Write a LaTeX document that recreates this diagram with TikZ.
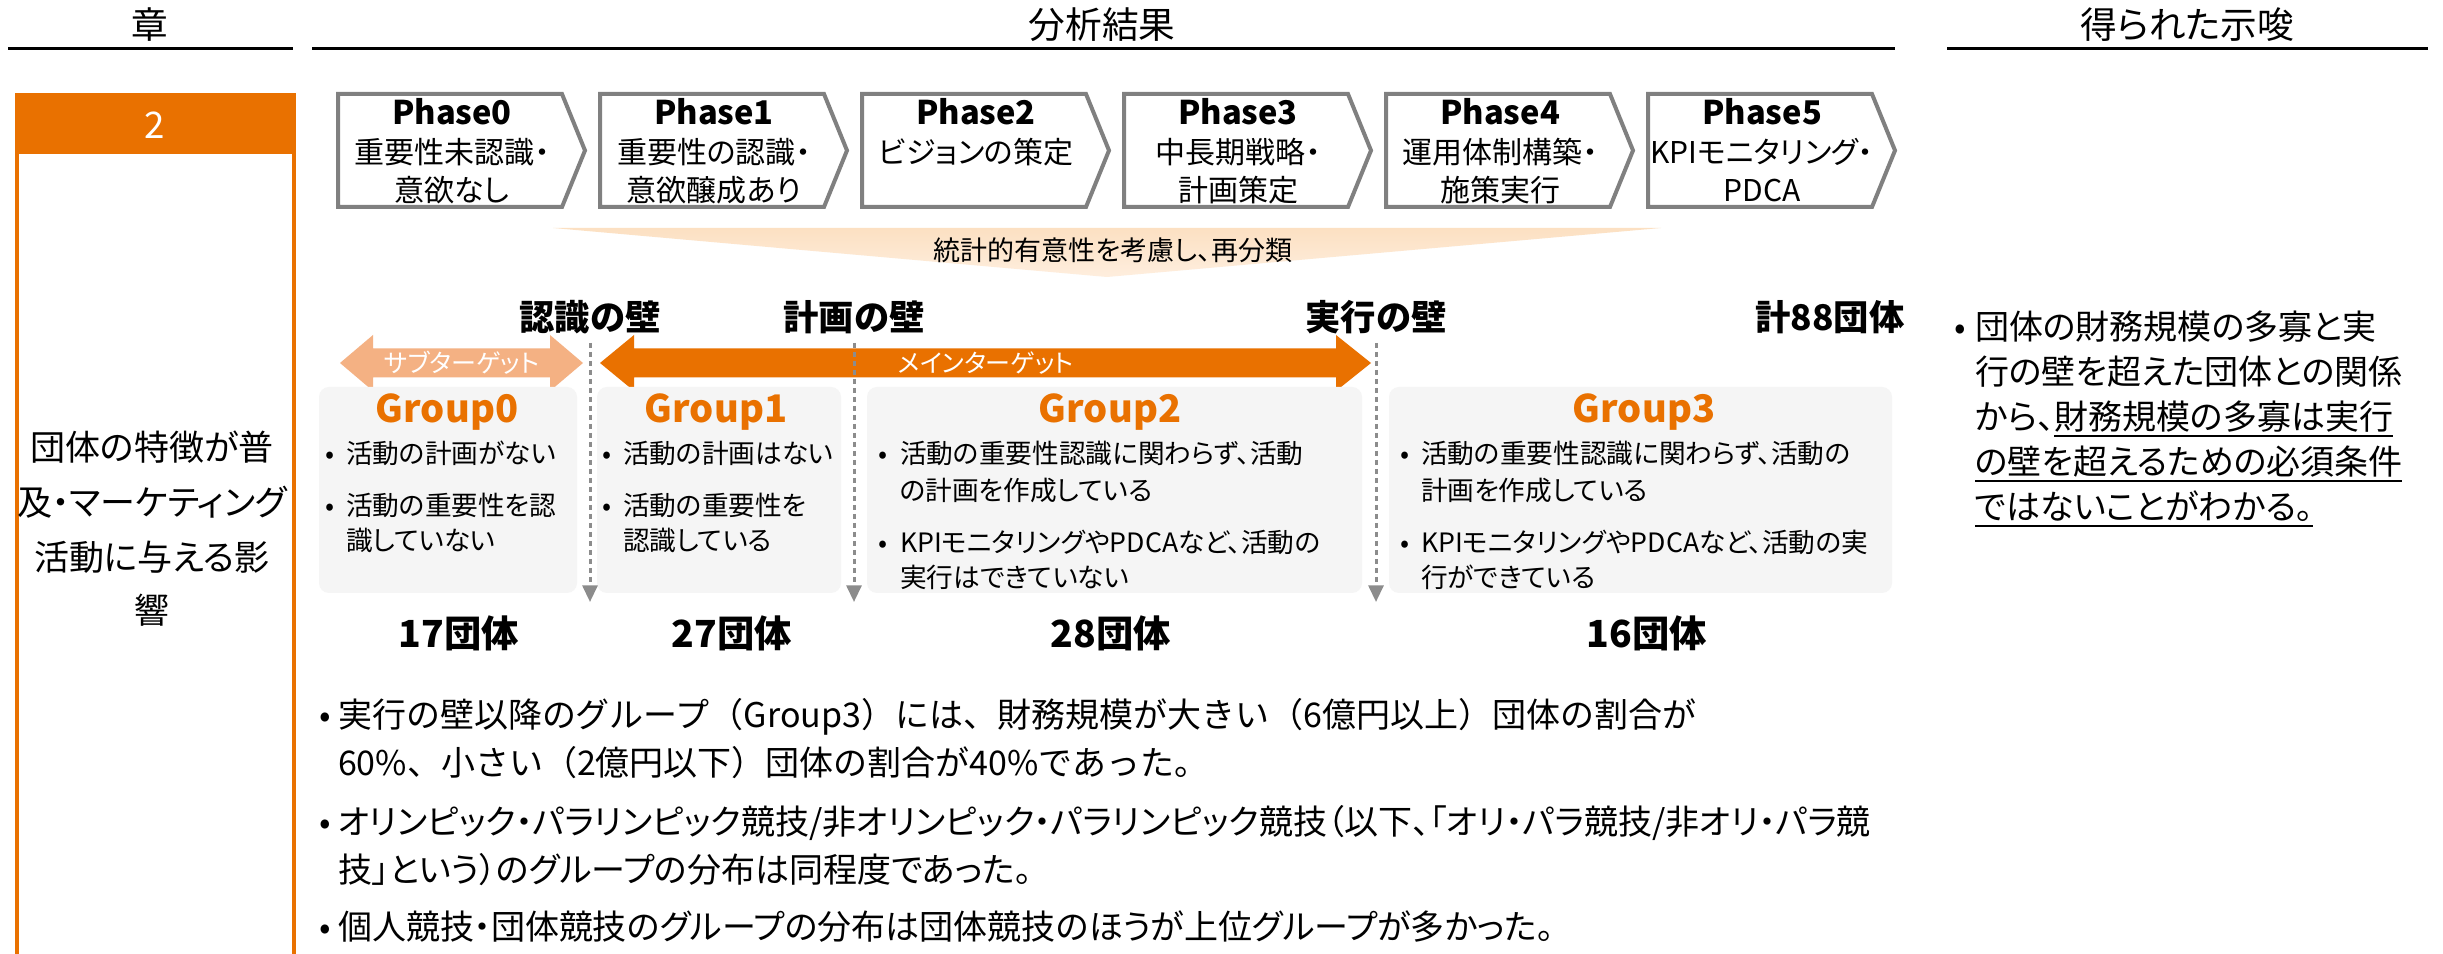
\documentclass[tikz,border=0pt]{standalone}
\usepackage{fontspec}
\setmainfont{Noto Sans CJK JP}[RawFeature=+palt]
\newfontfamily\nopalt{Noto Sans CJK JP}
\usetikzlibrary{arrows.meta}
\definecolor{mainor}{RGB}{233,113,0}
\definecolor{subor}{RGB}{244,177,131}
\definecolor{fantop}{RGB}{252,224,194}
\definecolor{fanbot}{RGB}{254,238,222}
\definecolor{phgray}{RGB}{128,128,128}
\definecolor{dashgray}{RGB}{140,140,140}
\definecolor{boxgray}{RGB}{245,245,245}
\newcommand\myul[1]{\setbox0\hbox{#1}\rlap{\rule[-2.1pt]{\wd0}{0.6pt}}\box0}
\tikzset{
  t/.style={inner sep=0pt, outer sep=0pt},
  hdr/.style={t, font=\fontsize{11pt}{13pt}\selectfont, text height=9.68pt, text depth=1.32pt},
  chapno/.style={t, text=white, font=\fontsize{11pt}{13pt}\selectfont, text height=8pt, text depth=0pt},
  lefttxt/.style={t, font=\fontsize{10.5pt}{12pt}\selectfont, text height=9.24pt, text depth=1.26pt},
  phtitle/.style={t, font=\bfseries\fontsize{9.8pt}{11pt}\selectfont, text height=7.15pt, text depth=0pt},
  phsub/.style={t, font=\fontsize{9pt}{10pt}\selectfont, text height=7.92pt, text depth=1.08pt},
  fantxt/.style={t, font=\fontsize{8.1pt}{9pt}\selectfont, text height=7.13pt, text depth=0.97pt},
  wall/.style={t, font=\bfseries\fontsize{10.6pt}{12pt}\selectfont, text height=9.33pt, text depth=1.27pt},
  arrtxt/.style={t, text=white, font=\fontsize{7.5pt}{8pt}\selectfont, text height=6.6pt, text depth=0.9pt},
  gtitle/.style={t, text=mainor, font=\bfseries\fontsize{11.4pt}{12pt}\selectfont, text height=8.3pt, text depth=2.3pt},
  gtxt/.style={t, anchor=west, font=\fontsize{8pt}{9pt}\selectfont, text height=7.04pt, text depth=0.96pt},
  gbul/.style={t, font=\fontsize{8pt}{9pt}\selectfont, text height=7.04pt, text depth=0.96pt},
  cnt/.style={t, font=\bfseries\fontsize{11.2pt}{12pt}\selectfont, text height=9.86pt, text depth=1.34pt},
  btxt/.style={t, anchor=west, font=\fontsize{10.2pt}{12pt}\selectfont, text height=8.98pt, text depth=1.22pt},
  bbul/.style={t, font=\fontsize{10.2pt}{12pt}\selectfont, text height=8.98pt, text depth=1.22pt},
  hline/.style={line width=0.9pt, black},
  phasebox/.style={draw=phgray, line width=1.2pt, fill=white},
  wallline/.style={dashgray, line width=0.9pt, dash pattern=on 1.5pt off 1.2pt, -{Triangle[width=4.5pt,length=5pt]}},
  gbox/.style={fill=boxgray, rounded corners=3pt},
}
\begin{document}
\begin{tikzpicture}[x=0.3pt, y=-0.3pt]
\useasboundingbox (0,0) rectangle (2443,954);
\fill[white] (0,0) rectangle (2443,954);

% headers
\node[hdr] (h1) at (150,25) {章};
\node[hdr] (h2) at (1102,25) {分析結果};
\node[hdr] (h3) at (2187,25) {得られた示唆};
\draw[hline] (8,49) -- (293,49);
\draw[hline] (312,49) -- (1895,49);
\draw[hline] (1947,49) -- (2428,49);

% left column
\fill[mainor] (15,93) rectangle (296,154);
\draw[mainor, line width=1.2pt] (17,154) -- (17,970);
\draw[mainor, line width=1.2pt] (294,154) -- (294,970);
\node[chapno] (chap) at (155,125) {2};
\node[lefttxt] (lt1) at (152,447) {団体の特徴が普};
\node[lefttxt] (lt2) at (152,502) {及・マーケティング};
\node[lefttxt] (lt3) at (152,557) {活動に与える影};
\node[lefttxt] (lt4) at (152,610) {響};

% phases
\foreach \i/\la/\lb in {0/重要性未認識・/意欲なし, 1/重要性の認識・/意欲醸成あり, 2/ビジョンの策定/{}, 3/中長期戦略・/計画策定, 4/運用体制構築・/施策実行, 5/KPIモニタリング・/PDCA} {
  \pgfmathsetmacro\L{338+262*\i}
  \draw[phasebox] (\L,94) -- (\L+224,94) -- (\L+247,150.5) -- (\L+224,207) -- (\L,207) -- cycle;
  \node[phtitle] (ph\i) at (\L+114,113) {Phase\i};
  \node[phsub] (ph\i-a) at (\L+114,152) {\la};
  \node[phsub] (ph\i-b) at (\L+114,190) {\lb};
}

% fan
\shade[top color=fantop, bottom color=fanbot] (553,228) -- (1661,228) -- (1107,277) -- cycle;
\node[fantxt] (fan) at (1113,250) {統計的有意性を考慮し、再分類};

% walls
\node[wall] (w1) at (590,317) {認識の壁};
\node[wall] (w2) at (854,317) {計画の壁};
\node[wall] (w3) at (1376,317) {実行の壁};
\node[wall] (tot) at (1830,317) {計88団体};

% arrows
\fill[subor] (340,363) -- (373,335) -- (373,348.5) -- (550,348.5) -- (550,335) -- (583,363) -- (550,391) -- (550,377.5) -- (373,377.5) -- (373,391) -- cycle;
\node[arrtxt] (subt) at (462,363) {サブターゲット};
\fill[mainor] (600,363) -- (634,335) -- (634,348.5) -- (1336,348.5) -- (1336,335) -- (1371,363) -- (1336,391) -- (1336,377.5) -- (634,377.5) -- (634,391) -- cycle;
\node[arrtxt] (maint) at (986,363) {メインターゲット};

% group boxes
\fill[gbox] (319,387) rectangle (577,593);
\fill[gbox] (597,387) rectangle (841,593);
\fill[gbox] (867,387) rectangle (1362,593);
\fill[gbox] (1389,387) rectangle (1892,593);

% dashed wall lines
\coordinate (d1t) at (590,343); \coordinate (d1b) at (590,602);
\coordinate (d2t) at (854,343); \coordinate (d2b) at (854,602);
\coordinate (d3t) at (1376,343); \coordinate (d3b) at (1376,602);
\draw[wallline] (d1t) -- (d1b);
\draw[wallline] (d2t) -- (d2b);
\draw[wallline] (d3t) -- (d3b);

% group titles
\node[gtitle] (g0t) at (447,413) {Group0};
\node[gtitle] (g1t) at (716,413) {Group1};
\node[gtitle] (g2t) at (1110,413) {Group2};
\node[gtitle] (g3t) at (1644,413) {Group3};

% group 0
\node[gbul] (g0b1) at (330,453) {•};
\node[gtxt] (g0l1) at (346,453) {活動の計画がない};
\node[gbul] (g0b2) at (330,505) {•};
\node[gtxt] (g0l2) at (346,505) {活動の重要性を認};
\node[gtxt] (g0l3) at (346,540) {識していない};
% group 1
\node[gbul] (g1b1) at (607,453) {•};
\node[gtxt] (g1l1) at (623,453) {活動の計画はない};
\node[gbul] (g1b2) at (607,505) {•};
\node[gtxt] (g1l2) at (623,505) {活動の重要性を};
\node[gtxt] (g1l3) at (623,540) {認識している};
% group 2
\node[gbul] (g2b1) at (883,453) {•};
\node[gtxt] (g2l1) at (900,453) {活動の重要性認識に関わらず、活動};
\node[gtxt] (g2l2) at (900,490) {の計画を作成している};
\node[gbul] (g2b2) at (883,542) {•};
\node[gtxt] (g2l3) at (900,542) {KPIモニタリングやPDCAなど、活動の};
\node[gtxt] (g2l4) at (900,577) {実行はできていない};
% group 3
\node[gbul] (g3b1) at (1405,453) {•};
\node[gtxt] (g3l1) at (1421,453) {活動の重要性認識に関わらず、活動の};
\node[gtxt] (g3l2) at (1421,490) {計画を作成している};
\node[gbul] (g3b2) at (1405,542) {•};
\node[gtxt] (g3l3) at (1421,542) {KPIモニタリングやPDCAなど、活動の実};
\node[gtxt] (g3l4) at (1421,577) {行ができている};

% counts
\node[cnt] (c0) at (459,633) {17団体};
\node[cnt] (c1) at (732,633) {27団体};
\node[cnt] (c2) at (1111,633) {28団体};
\node[cnt] (c3) at (1647,633) {16団体};

% bottom bullets
\node[bbul] (bb1) at (325,715) {•};
\node[btxt] (bl1) at (338,715) {\nopalt 実行の壁以降のグループ（Group3）には、財務規模が大きい（6億円以上）団体の割合が};
\node[btxt] (bl2) at (338,763) {\nopalt 60\%、小さい（2億円以下）団体の割合が40\%であった。};
\node[bbul] (bb2) at (325,822) {•};
\node[btxt] (bl3) at (338,822) {オリンピック・パラリンピック競技/非オリンピック・パラリンピック競技（以下、「オリ・パラ競技/非オリ・パラ競};
\node[btxt] (bl4) at (338,870) {技」という）のグループの分布は同程度であった。};
\node[bbul] (bb3) at (325,927) {•};
\node[btxt] (bl5) at (338,927) {個人競技・団体競技のグループの分布は団体競技のほうが上位グループが多かった。};

% right column
\node[bbul] (rb1) at (1960,327) {•};
\node[btxt] (rl1) at (1975,327) {団体の財務規模の多寡と実};
\node[btxt] (rl2) at (1975,372) {行の壁を超えた団体との関係};
\node[btxt] (rl3) at (1975,417) {から、\myul{財務規模の多寡は実行}};
\node[btxt] (rl4) at (1975,462) {\myul{の壁を超えるための必須条件}};
\node[btxt] (rl5) at (1975,507) {\myul{ではないことがわかる。}};
\end{tikzpicture}
\end{document}
